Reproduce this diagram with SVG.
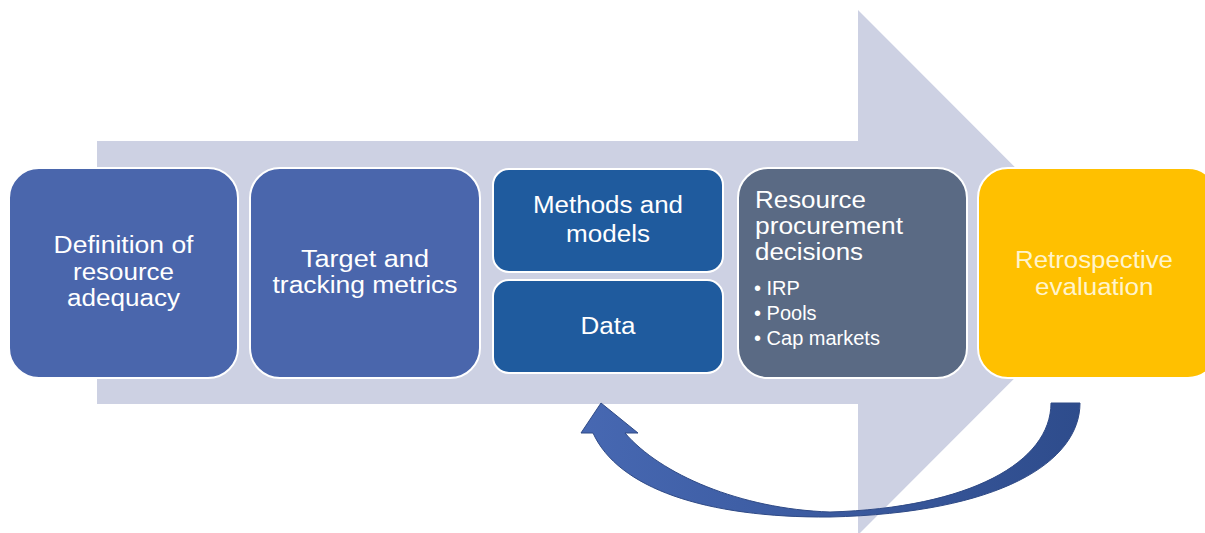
<svg xmlns="http://www.w3.org/2000/svg" width="1205" height="533" viewBox="0 0 1205 533">
<defs>
<style>
.box{stroke:#ffffff;stroke-width:2}
.t{font-family:"Liberation Sans",Arial,sans-serif;font-size:23px;fill:#ffffff}
.b{font-size:20px}
.y{fill:#fff4cc}
</style>
<linearGradient id="ga" x1="580" y1="0" x2="1080" y2="0" gradientUnits="userSpaceOnUse">
<stop offset="0" stop-color="#4768b2"/>
<stop offset="1" stop-color="#2e4c8c"/>
</linearGradient>
</defs>
<rect width="1205" height="533" fill="#ffffff"/>
<g id="big-arrow">
<polygon points="97,141 858,141 858,10 1120,272.5 858,535 858,404 97,404" fill="#cdd1e3"/>
</g>
<g id="n1"><rect class="box" x="9" y="168" width="229" height="210" rx="30" fill="#4a66ac"/>
<text class="t" x="53.5" y="253" textLength="140" lengthAdjust="spacingAndGlyphs">Definition of</text>
<text class="t" x="73" y="280" textLength="101" lengthAdjust="spacingAndGlyphs">resource</text>
<text class="t" x="67" y="306" textLength="113" lengthAdjust="spacingAndGlyphs">adequacy</text></g>
<g id="n2"><rect class="box" x="250" y="168" width="230" height="210" rx="30" fill="#4a66ac"/>
<text class="t" x="301" y="267" textLength="128" lengthAdjust="spacingAndGlyphs">Target and</text>
<text class="t" x="272.5" y="293" textLength="185" lengthAdjust="spacingAndGlyphs">tracking metrics</text></g>
<g id="n3"><rect class="box" x="493" y="169" width="230" height="103" rx="16" fill="#1f5b9e"/>
<text class="t" x="533" y="213" textLength="150" lengthAdjust="spacingAndGlyphs">Methods and</text>
<text class="t" x="566" y="242" textLength="84" lengthAdjust="spacingAndGlyphs">models</text></g>
<g id="n4"><rect class="box" x="493" y="280" width="230" height="93" rx="16" fill="#1f5b9e"/>
<text class="t" x="580.5" y="334" textLength="55" lengthAdjust="spacingAndGlyphs">Data</text></g>
<g id="n5"><rect class="box" x="738" y="168" width="229" height="210" rx="30" fill="#5a6a84"/>
<text class="t" x="755" y="208" textLength="111" lengthAdjust="spacingAndGlyphs">Resource</text>
<text class="t" x="755" y="234" textLength="148" lengthAdjust="spacingAndGlyphs">procurement</text>
<text class="t" x="755" y="260" textLength="108" lengthAdjust="spacingAndGlyphs">decisions</text>
<text class="t b" x="754" y="295">• IRP</text>
<text class="t b" x="754" y="320">• Pools</text>
<text class="t b" x="754" y="345">• Cap markets</text></g>
<g id="n6"><rect class="box" x="978" y="168" width="240" height="210" rx="30" fill="#ffc000"/>
<text class="t y" x="1015" y="268" textLength="158" lengthAdjust="spacingAndGlyphs">Retrospective</text>
<text class="t y" x="1035" y="295" textLength="118.5" lengthAdjust="spacingAndGlyphs">evaluation</text></g>
<g id="connectors">
<path d="M1051 403 L1080 403 C1080 462 1000 513 830 517 C705 518 618 488 593 433 L581 433 L601 403 L638 433 L625 433 C660 474 740 509 830 512 C970 508 1051 462 1051 403 Z" fill="url(#ga)" stroke="#2f4a86" stroke-width="1"/>
</g>
</svg>
